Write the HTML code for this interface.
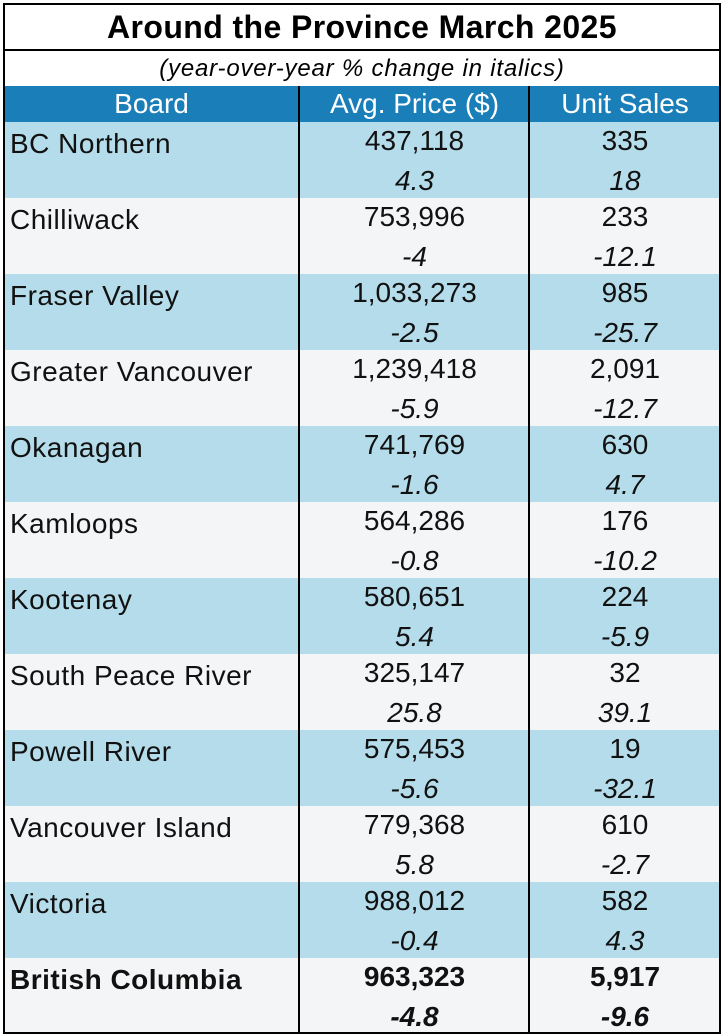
<!DOCTYPE html>
<html><head><style>
body{margin:0;background:#fff;width:723px;height:1035px;position:relative;font-family:"Liberation Sans",Arial,sans-serif;}
.box{position:absolute;left:3px;top:3px;width:714px;height:1027px;border:2px solid #000;overflow:hidden;}
.t{position:absolute;left:0;width:714px;text-align:center}
.r{position:absolute;left:0;width:714px;height:76px}
.c{position:absolute;font-size:28px;line-height:38px;color:#111;white-space:nowrap}
.v{position:absolute;top:0;width:2px;background:#000}
</style></head><body>
<div class="box">
<div class="t" style="top:0;height:44px;line-height:44px;font-size:32px;font-weight:bold;letter-spacing:0.4px;border-bottom:2px solid #000">Around the Province March 2025</div>
<div class="t" style="top:46px;height:35px;line-height:35px;font-size:24px;font-style:italic;letter-spacing:0.8px;border-bottom:2px solid #000">(year-over-year % change in italics)</div>
<div class="r" style="top:81px;height:36px;background:#1a7eb9;">
<div class="c" style="left:0;width:293px;text-align:center;color:#fff;line-height:36px">Board</div>
<div class="c" style="left:295px;width:229px;text-align:center;color:#fff;line-height:36px">Avg. Price ($)</div>
<div class="c" style="left:526px;width:188px;text-align:center;color:#fff;line-height:36px">Unit Sales</div>
</div>
<div id="rows"></div>
<div class="v" style="left:293px;top:81px;height:950px"></div>
<div class="v" style="left:523px;top:81px;height:950px"></div>
</div>
<script>
var d=[["BC Northern","437,118","4.3","335","18"],["Chilliwack","753,996","-4","233","-12.1"],["Fraser Valley","1,033,273","-2.5","985","-25.7"],["Greater Vancouver","1,239,418","-5.9","2,091","-12.7"],["Okanagan","741,769","-1.6","630","4.7"],["Kamloops","564,286","-0.8","176","-10.2"],["Kootenay","580,651","5.4","224","-5.9"],["South Peace River","325,147","25.8","32","39.1"],["Powell River","575,453","-5.6","19","-32.1"],["Vancouver Island","779,368","5.8","610","-2.7"],["Victoria","988,012","-0.4","582","4.3"],["British Columbia","963,323","-4.8","5,917","-9.6"]];
var h="";
d.forEach(function(x,i){var b=i==11?"font-weight:bold;":"";
h+='<div class="r" style="top:'+(117+i*76)+'px;background:'+(i%2==0&&i<11?'#b4dcea':'#f3f5f7')+'">'+
'<div class="c" style="'+b+'left:5px;top:3px;letter-spacing:0.5px">'+x[0]+'</div>'+
'<div class="c" style="'+b+'left:295px;width:229px;text-align:center;top:0px">'+x[1]+'</div>'+
'<div class="c" style="'+b+'left:295px;width:229px;text-align:center;top:40px;font-style:italic">'+x[2]+'</div>'+
'<div class="c" style="'+b+'left:526px;width:188px;text-align:center;top:0px">'+x[3]+'</div>'+
'<div class="c" style="'+b+'left:526px;width:188px;text-align:center;top:40px;font-style:italic">'+x[4]+'</div></div>';});
document.getElementById("rows").innerHTML=h;
</script>
</body></html>
